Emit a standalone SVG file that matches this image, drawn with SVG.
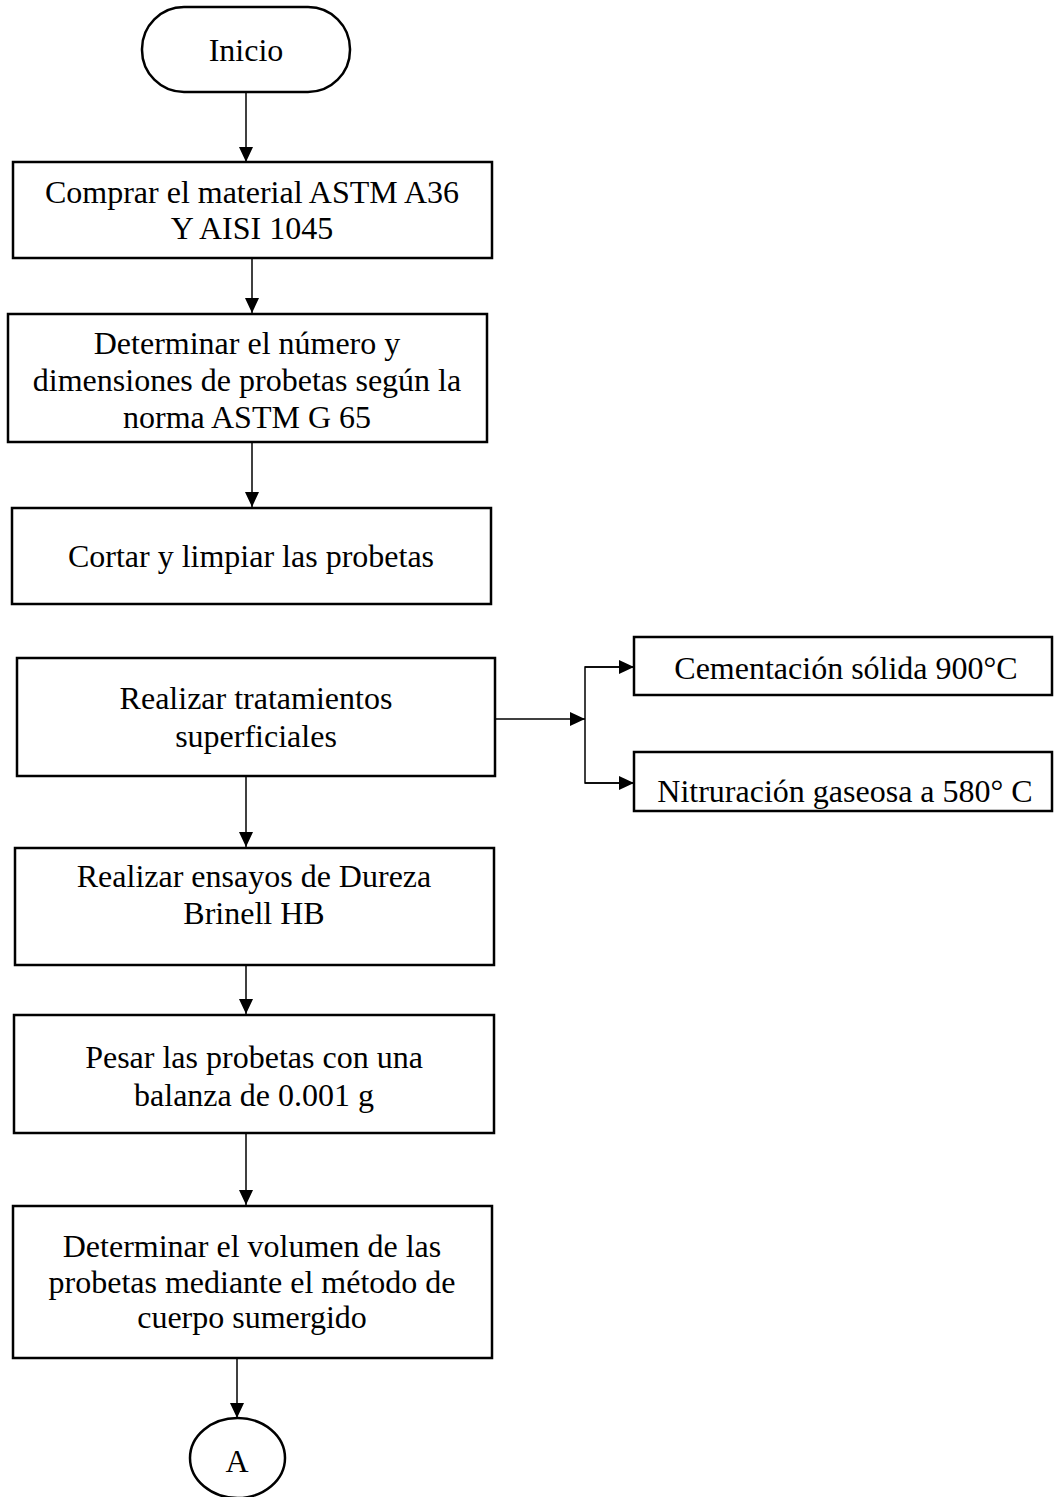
<svg xmlns="http://www.w3.org/2000/svg" width="1054" height="1497" viewBox="0 0 1054 1497">
<style>
.box{fill:#fff;stroke:#000;stroke-width:2.5}
.t{font-family:"Liberation Serif","Times New Roman",serif;font-size:32px;fill:#000;text-anchor:middle}
.c{fill:none;stroke:#000;stroke-width:1.5}
</style>
<defs>
<marker id="ah" markerUnits="userSpaceOnUse" markerWidth="15" markerHeight="14" refX="15" refY="7" orient="auto">
<path d="M0,0 L15,7 L0,14 z" fill="#000"/>
</marker>
</defs>
<rect width="1054" height="1497" fill="#fff"/>
<g id="connectors">
<line class="c" x1="246" y1="92" x2="246" y2="162" marker-end="url(#ah)"/>
<line class="c" x1="252" y1="258" x2="252" y2="313" marker-end="url(#ah)"/>
<line class="c" x1="252" y1="442" x2="252" y2="507" marker-end="url(#ah)"/>
<line class="c" x1="495" y1="719" x2="585" y2="719" marker-end="url(#ah)"/>
<polyline class="c" points="634,667 585,667 585,783 634,783"/>
<line class="c" x1="585" y1="667" x2="634" y2="667" marker-end="url(#ah)"/>
<line class="c" x1="585" y1="783" x2="634" y2="783" marker-end="url(#ah)"/>
<line class="c" x1="246" y1="776" x2="246" y2="847" marker-end="url(#ah)"/>
<line class="c" x1="246" y1="965" x2="246" y2="1014" marker-end="url(#ah)"/>
<line class="c" x1="246" y1="1133" x2="246" y2="1205" marker-end="url(#ah)"/>
<line class="c" x1="237" y1="1358" x2="237" y2="1418" marker-end="url(#ah)"/>
</g>
<g id="inicio">
<rect class="box" x="142" y="7" width="208" height="85" rx="42" ry="42"/>
<text class="t" x="246" y="61">Inicio</text>
</g>
<g id="comprar">
<rect class="box" x="13" y="162" width="479" height="96"/>
<text class="t" x="252" y="203">Comprar el material ASTM A36</text>
<text class="t" x="252" y="239">Y AISI 1045</text>
</g>
<g id="determinar-numero">
<rect class="box" x="8" y="314" width="479" height="128"/>
<text class="t" x="247" y="354">Determinar el número y</text>
<text class="t" x="247" y="391">dimensiones de probetas según la</text>
<text class="t" x="247" y="428">norma ASTM G 65</text>
</g>
<g id="cortar">
<rect class="box" x="12" y="508" width="479" height="96"/>
<text class="t" x="251" y="567">Cortar y limpiar las probetas</text>
</g>
<g id="tratamientos">
<rect class="box" x="17" y="658" width="478" height="118"/>
<text class="t" x="256" y="709">Realizar tratamientos</text>
<text class="t" x="256" y="747">superficiales</text>
</g>
<g id="cementacion">
<rect class="box" x="634" y="637" width="418" height="58"/>
<text class="t" x="846" y="679">Cementación sólida 900°C</text>
</g>
<g id="nitruracion">
<rect class="box" x="634" y="752" width="418" height="59"/>
<text class="t" x="845" y="802">Nitruración gaseosa a 580° C</text>
</g>
<g id="dureza">
<rect class="box" x="15" y="848" width="479" height="117"/>
<text class="t" x="254" y="887">Realizar ensayos de Dureza</text>
<text class="t" x="254" y="924">Brinell HB</text>
</g>
<g id="pesar">
<rect class="box" x="14" y="1015" width="480" height="118"/>
<text class="t" x="254" y="1068">Pesar las probetas con una</text>
<text class="t" x="254" y="1106">balanza de 0.001 g</text>
</g>
<g id="volumen">
<rect class="box" x="13" y="1206" width="479" height="152"/>
<text class="t" x="252" y="1257">Determinar el volumen de las</text>
<text class="t" x="252" y="1293">probetas mediante el método de</text>
<text class="t" x="252" y="1328">cuerpo sumergido</text>
</g>
<g id="conector-a">
<ellipse class="box" cx="237.5" cy="1458" rx="47.5" ry="40"/>
<text class="t" x="237" y="1472">A</text>
</g>
</svg>
